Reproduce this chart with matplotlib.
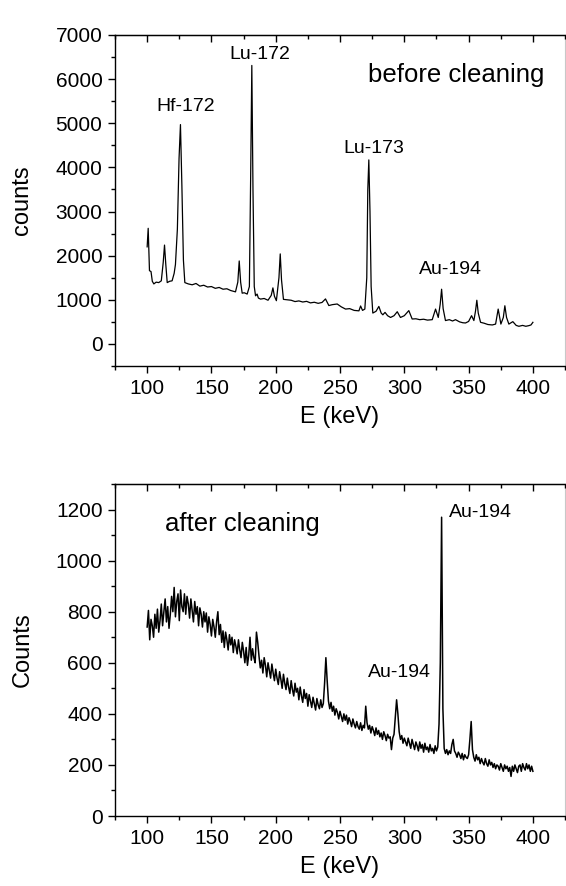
import numpy as np
import matplotlib
matplotlib.use("Agg")
import matplotlib.pyplot as plt
from matplotlib.ticker import MultipleLocator

plt.rcParams['font.family'] = ['Liberation Sans', 'DejaVu Sans']

# spectrum before cleaning (energy in keV, counts)
e_before = [100, 100.8, 101.8, 103, 104, 105.2, 107, 109, 111, 112.5, 113.5, 114.5, 115.6, 117.5,
            119.4, 121, 122, 123.5, 124.8, 125.9, 127, 128.2, 129.3, 132, 135, 138, 141, 144, 147,
            150, 153, 156, 159, 162, 165, 168.7, 170.5, 171.6, 172.7, 173.9, 175.5, 177.8, 179.5,
            180.5, 181.4, 182.3, 183.3, 184.3, 185.5, 186.5, 188.2, 191, 194, 196.5, 197.8, 199,
            200.5, 202.5, 203.5, 204.5, 206, 209, 212, 215, 218, 221, 224, 227, 230, 233, 236,
            238.7, 241.3, 244, 247.8, 251, 254.3, 257.5, 261, 264.7, 266, 267.5, 269.3, 270.8,
            271.6, 272.4, 273.3, 274.2, 275.5, 278, 280.2, 282, 283.3, 285, 287, 289.3, 292, 294.5,
            297, 300, 303.5, 306.1, 309, 312, 315, 318, 321.7, 324.3, 326.4, 327.9, 329, 330.2,
            332, 335, 337.5, 339.8, 343, 345.5, 347.6, 350, 352.3, 354.1, 355.4, 356.4, 357.5,
            359.3, 362, 365, 368.4, 371, 373, 374.2, 375.1, 377, 378.2, 379.5, 381.3, 384.4, 387,
            389.1, 392, 394.5, 396.9, 398.5, 400]
c_before = [2200, 2620, 1660, 1640, 1420, 1360, 1400, 1390, 1430, 1850, 2240, 1800, 1390, 1420,
            1430, 1600, 1800, 2600, 4200, 4970, 3600, 1900, 1390, 1360, 1340, 1370, 1310, 1330, 1290,
            1300, 1260, 1280, 1240, 1250, 1210, 1180, 1400, 1880, 1400, 1150, 1160, 1130, 1300,
            3800, 6310, 3500, 1300, 1090, 1130, 1040, 1016, 1030, 990, 1100, 1270, 1080,
            980, 1500, 2040, 1450, 1010, 1000, 990, 960, 975, 950, 965, 930, 945, 920, 940,
            1020, 870, 890, 905, 840, 790, 800, 760, 750, 860, 760, 790, 1500,
            3500, 4170, 3000, 1300, 700, 740, 850, 700, 660, 715, 640, 600, 640, 730,
            600, 640, 755, 565, 570, 550, 560, 540, 550, 790, 600, 900, 1240, 800,
            530, 550, 520, 550, 500, 480, 475, 510, 640, 530, 750, 990, 700,
            490, 470, 440, 430, 450, 790, 600, 450, 600, 865, 600, 450, 505, 420,
            400, 420, 400, 415, 430, 490]

# spectrum after cleaning, one value per keV from 100 to 400
e_after = list(range(100, 401))
c_after = [740, 805, 690, 770, 745, 700, 790, 735, 810, 720,
           765, 830, 745, 800, 850, 760, 820, 735, 790, 860,
           800, 895, 780, 840, 870, 765, 885, 820, 800, 870,
           790, 860, 830, 775, 850, 805, 760, 840, 790, 820,
           745, 815, 790, 740, 800, 760, 795, 720, 780, 750,
           705, 770, 740, 700, 760, 800, 710, 750, 680, 725,
           660, 720, 690, 650, 710, 670, 700, 640, 690, 665,
           635, 690, 650, 620, 680, 645, 600, 660, 590, 630,
           700, 610, 655, 620, 600, 720, 680, 625, 580, 610,
           560, 620, 590, 545, 600, 570, 540, 595, 560, 530,
           575, 540, 515, 565, 535, 500, 555, 520, 495, 540,
           505, 480, 530, 495, 470, 520, 485, 500, 455, 505,
           470, 445, 495, 460, 480, 430, 475, 450, 425, 465,
           440, 415, 460, 435, 420, 455, 425, 440, 520, 620,
           530, 450, 420, 445, 410, 430, 395, 420, 405, 380,
           410, 390, 370, 400, 375, 395, 360, 385, 370, 350,
           380, 360, 345, 370, 350, 340, 365, 335, 355, 345,
           430, 365, 340, 355, 325, 350, 335, 315, 345, 320,
           335, 310, 325, 300, 330, 315, 295, 320, 305, 310,
           260, 305, 320, 390, 455, 400, 330, 300, 315, 285,
           305, 290, 275, 305, 285, 265, 300, 280, 260, 290,
           275, 255, 290, 265, 280, 250, 285, 260, 270, 250,
           280, 255, 265, 245, 275, 255, 270, 360, 600, 1170,
           420, 265, 245, 260, 240, 255, 245, 280, 300, 255,
           245, 230, 250, 240, 225, 245, 220, 240, 230, 225,
           240, 300, 370, 260, 230, 215, 240, 220, 230, 205,
           225, 210, 200, 225, 205, 195, 220, 200, 210, 190,
           205, 185, 200, 195, 180, 205, 190, 175, 200, 185,
           195, 175, 190, 155, 195, 175, 200, 185, 170, 195,
           200, 175, 205, 190, 180, 205, 185, 200, 175, 195,
           175]

labels_before = ['Hf-172', 'Lu-172', 'Lu-173', 'Au-194']
label_pos_before = [(130, 5370), (187.6, 6550), (276, 4430), (335.7, 1690)]
labels_after = ['Au-194', 'Au-194']
label_pos_after = [(359.6, 1187), (296, 561)]

fig = plt.figure(figsize=(5.66, 8.86), dpi=100)
ax1 = fig.add_axes([0.2032, 0.5869, 0.7951, 0.3736])
ax2 = fig.add_axes([0.2032, 0.0790, 0.7951, 0.3747])

ax1.plot(e_before, c_before, color='black', lw=0.9)
ax2.plot(e_after, c_after, color='black', lw=1.1)

for ax in (ax1, ax2):
    ax.set_xlim(75, 425)
    ax.xaxis.set_major_locator(MultipleLocator(50))
    ax.xaxis.set_minor_locator(MultipleLocator(25))
    ax.set_xticks([100, 150, 200, 250, 300, 350, 400])
    ax.tick_params(axis='both', which='major', length=5, width=1, labelsize=15, pad=4)
    ax.tick_params(axis='both', which='minor', length=3, width=1)
    ax.tick_params(axis='x', which='both', top=False, direction='out')
    ax.spines['right'].set_color('#c8c8c8')
    ax.spines['right'].set_linewidth(0.8)
    ax.set_xlabel('E (keV)', fontsize=17, labelpad=6)
    for side in ('left', 'bottom', 'top'):
        ax.spines[side].set_linewidth(1.0)

    # ticks on the top spine point into the plot
    top = ax.twiny()
    top.set_xlim(ax.get_xlim())
    top.xaxis.set_major_locator(MultipleLocator(50))
    top.xaxis.set_minor_locator(MultipleLocator(25))
    top.tick_params(axis='x', which='major', direction='in', length=5, width=1, labeltop=False)
    top.tick_params(axis='x', which='minor', direction='in', length=3, width=1)
    top.spines['right'].set_visible(False)
    top.spines['left'].set_visible(False)
    top.spines['bottom'].set_visible(False)

ax1.set_ylim(-500, 7000)
ax1.yaxis.set_major_locator(MultipleLocator(1000))
ax1.yaxis.set_minor_locator(MultipleLocator(500))
ax1.set_ylabel('counts', fontsize=17, labelpad=16)

ax2.set_ylim(0, 1300)
ax2.yaxis.set_major_locator(MultipleLocator(200))
ax2.yaxis.set_minor_locator(MultipleLocator(100))
ax2.set_ylabel('Counts', fontsize=17, labelpad=16)

for txt, (x, y) in zip(labels_before, label_pos_before):
    ax1.text(x, y, txt, fontsize=14, ha='center', va='center')
ax1.text(340.4, 6100, 'before cleaning', fontsize=18.5, ha='center', va='center')

for txt, (x, y) in zip(labels_after, label_pos_after):
    ax2.text(x, y, txt, fontsize=14, ha='center', va='center')
ax2.text(174.4, 1143, 'after cleaning', fontsize=18.5, ha='center', va='center')

fig.savefig('out.png', dpi=100)
